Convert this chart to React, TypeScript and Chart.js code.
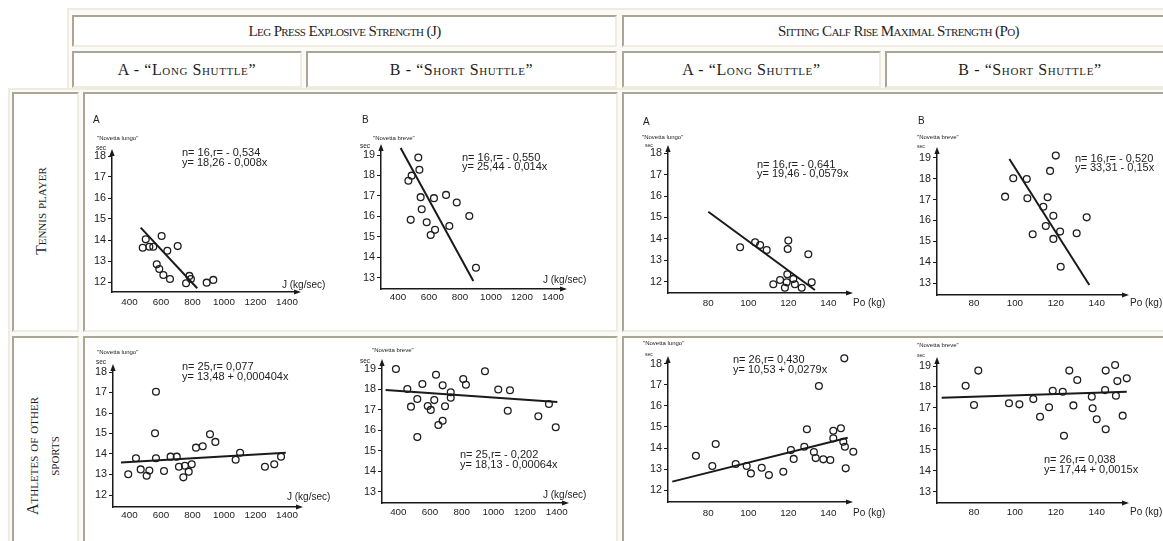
import React, { useEffect, useRef } from "react";
import { Chart, registerables } from "chart.js";

Chart.register(...registerables);

// ---------- tick labels ----------
const jTickLabels = [400, 600, 800, 1000, 1200, 1400];
const poTickLabels = [80, 100, 120, 140];
const secTicksFrom12 = [12, 13, 14, 15, 16, 17, 18];
const secTicksFrom13 = [13, 14, 15, 16, 17, 18, 19];

// ---------- Tennis players, Leg press (J), A - long shuttle ----------
const tennisLegLongX = [604, 503, 484, 526, 551, 640, 706, 573, 589, 615, 657, 780, 759, 790, 890, 932];
const tennisLegLongY = [14.19, 14.03, 13.63, 13.68, 13.68, 13.49, 13.71, 12.84, 12.62, 12.33, 12.14, 12.29, 11.94, 12.14, 11.97, 12.1];
const tennisLegLongFitX = [471, 830];
const tennisLegLongFitY = [14.59, 11.7];

// ---------- Tennis players, Leg press (J), B - short shuttle ----------
const tennisLegShortX = [531, 538, 488, 467, 546, 632, 710, 779, 553, 860, 482, 585, 639, 611, 731, 903];
const tennisLegShortY = [18.88, 18.28, 17.99, 17.74, 16.94, 16.89, 17.05, 16.68, 16.35, 16.02, 15.83, 15.71, 15.34, 15.09, 15.53, 13.49];
const tennisLegShortFitX = [417, 886];
const tennisLegShortFitY = [19.34, 12.84];

// ---------- Tennis players, Calf rise (Po), A - long shuttle ----------
const tennisCalfLongX = [95.9, 103.4, 105.9, 109.2, 120, 119.7, 130, 119.5, 115.9, 112.5, 119.2, 122.5, 123.3, 126.7, 131.7, 118.3];
const tennisCalfLongY = [13.61, 13.84, 13.71, 13.48, 13.92, 13.53, 13.28, 12.35, 12.08, 11.88, 11.97, 12.13, 11.88, 11.72, 11.97, 11.72];
const tennisCalfLongFitX = [80, 133.3];
const tennisCalfLongFitY = [15.27, 11.61];

// ---------- Tennis players, Calf rise (Po), B - short shuttle ----------
const tennisCalfShortX = [120, 117.2, 99.2, 105.8, 95.2, 106.1, 116, 113.9, 118.8, 135.1, 115.1, 122.1, 108.7, 118.8, 130.2, 122.4];
const tennisCalfShortY = [19.1, 18.37, 18.02, 17.98, 17.14, 17.06, 17.11, 16.66, 16.23, 16.15, 15.74, 15.47, 15.34, 15.12, 15.39, 13.79];
const tennisCalfShortFitX = [97.3, 136.4];
const tennisCalfShortFitY = [18.94, 12.92];

// ---------- Other athletes, Leg press (J), A - long shuttle ----------
const otherLegLongX = [568, 562, 441, 568, 661, 700, 392, 471, 526, 509, 619, 714, 752, 795, 776, 742, 822, 865, 911, 945, 1074, 1102, 1260, 1319, 1362];
const otherLegLongY = [17.04, 15.01, 13.79, 13.79, 13.87, 13.87, 13.01, 13.25, 13.19, 12.94, 13.17, 13.38, 13.43, 13.5, 13.14, 12.86, 14.31, 14.38, 14.96, 14.59, 13.72, 14.06, 13.38, 13.5, 13.87];
const otherLegLongFitX = [346, 1392];
const otherLegLongFitY = [13.58, 14.06];

// ---------- Other athletes, Leg press (J), B - short shuttle ----------
const otherLegShortX = [385, 457, 552, 638, 680, 520, 480, 586, 605, 627, 695, 731, 731, 680, 653, 520, 810, 827, 947, 1031, 1105, 1091, 1284, 1351, 1394];
const otherLegShortY = [19.0, 18.02, 18.27, 18.72, 18.2, 17.53, 17.16, 17.19, 17.0, 17.48, 17.18, 17.86, 17.6, 16.47, 16.26, 15.67, 18.51, 18.23, 18.89, 18.0, 17.96, 16.96, 16.69, 17.29, 16.15];
const otherLegShortFitX = [320, 1404];
const otherLegShortFitY = [17.97, 17.39];

// ---------- Other athletes, Calf rise (Po), A - long shuttle ----------
const otherCalfLongX = [73.8, 82, 83.7, 93.7, 99.2, 101.3, 106.7, 110.3, 117.5, 121.3, 122.7, 128, 129.3, 132.8, 133.7, 137.5, 141, 135.3, 148, 142.5, 146.3, 142.5, 147.5, 148.3, 148.7, 152.5];
const otherCalfLongY = [13.63, 13.14, 14.19, 13.24, 13.14, 12.79, 13.06, 12.71, 12.87, 13.9, 13.48, 14.06, 14.89, 13.81, 13.52, 13.46, 13.43, 16.95, 18.27, 14.82, 14.94, 14.46, 14.3, 14.06, 13.03, 13.82];
const otherCalfLongFitX = [62, 149.7];
const otherCalfLongFitY = [12.4, 14.49];

// ---------- Other athletes, Calf rise (Po), B - short shuttle ----------
const otherCalfShortX = [75.9, 82.1, 80, 97.1, 102.2, 109, 112.3, 118.5, 123.4, 116.7, 124, 126.6, 130.5, 128.6, 137.6, 138, 140, 144.1, 144.4, 144.1, 149, 150.1, 154.7, 149.4, 152.7, 144.4];
const otherCalfShortY = [18.06, 18.78, 17.14, 17.22, 17.17, 17.42, 16.58, 17.82, 17.77, 17.03, 15.67, 18.78, 18.33, 17.12, 17.53, 16.98, 16.46, 19.76, 18.78, 17.85, 19.05, 18.28, 18.41, 17.58, 16.63, 15.98];
const otherCalfShortFitX = [64.2, 154.7];
const otherCalfShortFitY = [17.49, 17.77];

// ---------- styling ----------
const SANS = '"Liberation Sans", Arial, sans-serif';
const SERIF = '"Liberation Serif", "Times New Roman", serif';
const INK = "#1a1a1a";
const TXT = "#222222";
const Y_W = 24;
const X_H = 18;
const NOTE = 11;

type Txt = { t: string; x: number; y: number; size: number; align?: CanvasTextAlign };
type Cal = [number, number, number, number];
interface PanelCfg {
  box: [number, number, number, number];
  axis: { l: number; t: number; r: number; b: number };
  xCal: Cal;
  yCal: Cal;
  xTicks: number[];
  yTicks: number[];
  xs: number[];
  ys: number[];
  fx: number[];
  fy: number[];
  xPad: number;
  texts: Txt[];
}

const lin = (c: Cal, p: number) => c[0] + ((p - c[1]) * (c[2] - c[0])) / (c[3] - c[1]);

const panels: PanelCfg[] = [
  {
    box: [85, 96, 270, 232],
    axis: { l: 112, t: 153, r: 297, b: 292 },
    xCal: [400, 129.5, 1400, 287],
    yCal: [12, 282, 18, 156],
    xTicks: jTickLabels, yTicks: secTicksFrom12,
    xs: tennisLegLongX, ys: tennisLegLongY, fx: tennisLegLongFitX, fy: tennisLegLongFitY,
    xPad: 4,
    texts: [
      { t: "A", x: 93, y: 120, size: 10 },
      { t: "\"Novetta lungo\"", x: 97, y: 138, size: 6 },
      { t: "sec", x: 96, y: 148, size: 6.5 },
      { t: "n= 16,r= - 0,534", x: 182, y: 153, size: NOTE },
      { t: "y= 18,26 - 0,008x", x: 182, y: 163, size: NOTE },
      { t: "J (kg/sec)", x: 282, y: 285, size: 10 },
    ],
  },
  {
    box: [355, 96, 260, 232],
    axis: { l: 381, t: 148, r: 563, b: 289 },
    xCal: [400, 398, 1400, 553],
    yCal: [13, 277.7, 19, 155],
    xTicks: jTickLabels, yTicks: secTicksFrom13,
    xs: tennisLegShortX, ys: tennisLegShortY, fx: tennisLegShortFitX, fy: tennisLegShortFitY,
    xPad: 2,
    texts: [
      { t: "B", x: 362, y: 120, size: 10 },
      { t: "\"Novetta breve\"", x: 373, y: 138, size: 6 },
      { t: "sec", x: 360, y: 146, size: 6.5 },
      { t: "n= 16,r= - 0,550", x: 462, y: 158, size: NOTE },
      { t: "y= 25,44 - 0,014x", x: 462, y: 167, size: NOTE },
      { t: "J (kg/sec)", x: 543, y: 280, size: 10 },
    ],
  },
  {
    box: [625, 96, 270, 232],
    axis: { l: 668, t: 149, r: 849, b: 293 },
    xCal: [80, 708.3, 140, 828.3],
    yCal: [12, 281.7, 18, 153.3],
    xTicks: poTickLabels, yTicks: secTicksFrom12,
    xs: tennisCalfLongX, ys: tennisCalfLongY, fx: tennisCalfLongFitX, fy: tennisCalfLongFitY,
    xPad: 4,
    texts: [
      { t: "A", x: 643, y: 122, size: 10 },
      { t: "\"Novetta lungo\"", x: 642, y: 137, size: 6 },
      { t: "sec", x: 645, y: 146, size: 5 },
      { t: "n= 16,r= - 0,641", x: 757, y: 165, size: NOTE },
      { t: "y= 19,46 - 0,0579x", x: 757, y: 174, size: NOTE },
      { t: "Po (kg)", x: 853, y: 303, size: 10 },
    ],
  },
  {
    box: [895, 96, 268, 232],
    axis: { l: 937, t: 151, r: 1125, b: 295 },
    xCal: [80, 974, 140, 1096.7],
    yCal: [13, 283.3, 19, 157.7],
    xTicks: poTickLabels, yTicks: secTicksFrom13,
    xs: tennisCalfShortX, ys: tennisCalfShortY, fx: tennisCalfShortFitX, fy: tennisCalfShortFitY,
    xPad: 2,
    texts: [
      { t: "B", x: 918, y: 121, size: 10 },
      { t: "\"Novetta breve\"", x: 917, y: 137, size: 6 },
      { t: "sec", x: 917, y: 147, size: 5 },
      { t: "n= 16,r= - 0,520", x: 1075, y: 159, size: NOTE },
      { t: "y= 33,31 - 0,15x", x: 1075, y: 168, size: NOTE },
      { t: "Po (kg)", x: 1130, y: 303, size: 10 },
    ],
  },
  {
    box: [85, 338, 270, 203],
    axis: { l: 113, t: 368, r: 299, b: 507 },
    xCal: [400, 129.5, 1400, 287],
    yCal: [12, 495, 18, 372],
    xTicks: jTickLabels, yTicks: secTicksFrom12,
    xs: otherLegLongX, ys: otherLegLongY, fx: otherLegLongFitX, fy: otherLegLongFitY,
    xPad: 2.5,
    texts: [
      { t: "\"Novetta lungo\"", x: 97, y: 352, size: 6 },
      { t: "sec", x: 96, y: 362, size: 6.5 },
      { t: "n= 25,r= 0,077", x: 182, y: 367, size: NOTE },
      { t: "y= 13,48 + 0,000404x", x: 182, y: 377, size: NOTE },
      { t: "J (kg/sec)", x: 287, y: 497, size: 10 },
    ],
  },
  {
    box: [355, 338, 260, 203],
    axis: { l: 382, t: 363, r: 565, b: 503 },
    xCal: [400, 398.3, 1400, 556.7],
    yCal: [13, 491.7, 19, 369],
    xTicks: jTickLabels, yTicks: secTicksFrom13,
    xs: otherLegShortX, ys: otherLegShortY, fx: otherLegShortFitX, fy: otherLegShortFitY,
    xPad: 3.5,
    texts: [
      { t: "\"Novetta breve\"", x: 372, y: 350, size: 6 },
      { t: "sec", x: 360, y: 361, size: 6.5 },
      { t: "n= 25,r= - 0,202", x: 460, y: 455, size: NOTE },
      { t: "y= 18,13 - 0,00064x", x: 460, y: 465, size: NOTE },
      { t: "J (kg/sec)", x: 543, y: 495, size: 10 },
    ],
  },
  {
    box: [625, 338, 270, 203],
    axis: { l: 668, t: 360, r: 849, b: 502 },
    xCal: [80, 708.3, 140, 828.3],
    yCal: [12, 490, 18, 364],
    xTicks: poTickLabels, yTicks: secTicksFrom12,
    xs: otherCalfLongX, ys: otherCalfLongY, fx: otherCalfLongFitX, fy: otherCalfLongFitY,
    xPad: 5,
    texts: [
      { t: "\"Novetta lungo\"", x: 643, y: 343, size: 6 },
      { t: "sec", x: 645, y: 355, size: 5 },
      { t: "n= 26,r= 0,430", x: 733, y: 360, size: NOTE },
      { t: "y= 10,53 + 0,0279x", x: 733, y: 370, size: NOTE },
      { t: "Po (kg)", x: 853, y: 513, size: 10 },
    ],
  },
  {
    box: [895, 338, 268, 203],
    axis: { l: 937, t: 361, r: 1125, b: 503 },
    xCal: [80, 974, 140, 1096.7],
    yCal: [13, 491.7, 19, 366],
    xTicks: poTickLabels, yTicks: secTicksFrom13,
    xs: otherCalfShortX, ys: otherCalfShortY, fx: otherCalfShortFitX, fy: otherCalfShortFitY,
    xPad: 3.5,
    texts: [
      { t: "\"Novetta breve\"", x: 917, y: 345, size: 6 },
      { t: "sec", x: 917, y: 356, size: 5 },
      { t: "n= 26,r= 0,038", x: 1044, y: 460, size: NOTE },
      { t: "y= 17,44 + 0,0015x", x: 1044, y: 470, size: NOTE },
      { t: "Po (kg)", x: 1130, y: 512, size: 10 },
    ],
  },
];

function ScatterPanel({ cfg }: { cfg: PanelCfg }) {
  const ref = useRef<HTMLCanvasElement | null>(null);
  useEffect(() => {
    const [cl, ct, cw, ch] = cfg.box;
    const { l, t, r, b } = cfg.axis;
    const xmin = lin(cfg.xCal, l);
    const xmax = lin(cfg.xCal, r);
    const ymin = lin(cfg.yCal, b);
    const ymax = lin(cfg.yCal, t);
    const decor = {
      id: "decor",
      afterDraw(chart: any) {
        const { ctx, chartArea: a } = chart;
        ctx.save();
        ctx.fillStyle = INK;
        ctx.beginPath();
        ctx.moveTo(a.left, a.top - 4);
        ctx.lineTo(a.left - 2.6, a.top + 3);
        ctx.lineTo(a.left + 2.6, a.top + 3);
        ctx.closePath();
        ctx.fill();
        ctx.beginPath();
        ctx.moveTo(a.right + 4, a.bottom);
        ctx.lineTo(a.right - 3, a.bottom - 2.6);
        ctx.lineTo(a.right - 3, a.bottom + 2.6);
        ctx.closePath();
        ctx.fill();
        ctx.fillStyle = TXT;
        ctx.textBaseline = "middle";
        for (const tx of cfg.texts) {
          ctx.font = `${tx.size}px ${SANS}`;
          ctx.textAlign = tx.align || "left";
          ctx.fillText(tx.t, tx.x - cl, tx.y - ct);
        }
        ctx.restore();
      },
    };
    const chart = new Chart(ref.current as HTMLCanvasElement, {
      type: "scatter",
      data: {
        datasets: [
          {
            data: cfg.fx.map((x, i) => ({ x, y: cfg.fy[i] })),
            showLine: true,
            borderColor: INK,
            borderWidth: 2,
            pointRadius: 0,
            clip: false as any,
          },
          {
            data: cfg.xs.map((x, i) => ({ x, y: cfg.ys[i] })),
            pointRadius: 3.4,
            pointBorderWidth: 1.3,
            pointBorderColor: "#1e1e1e",
            pointBackgroundColor: "rgba(255,255,255,0)",
            clip: false as any,
          },
        ],
      },
      options: {
        animation: false,
        responsive: false,
        maintainAspectRatio: false,
        events: [],
        layout: {
          padding: {
            left: l - cl - Y_W,
            right: cl + cw - r,
            top: t - ct,
            bottom: ct + ch - b - X_H,
          },
        },
        plugins: { legend: { display: false }, tooltip: { enabled: false }, title: { display: false } },
        scales: {
          x: {
            type: "linear",
            min: xmin,
            max: xmax,
            afterBuildTicks: (s: any) => {
              s.ticks = cfg.xTicks.map((v) => ({ value: v }));
            },
            afterFit: (s: any) => {
              s.height = X_H;
            },
            grid: { display: false, drawTicks: false },
            border: { display: true, color: INK, width: 1.5 },
            ticks: {
              autoSkip: false,
              maxRotation: 0,
              minRotation: 0,
              includeBounds: false,
              padding: cfg.xPad,
              color: TXT,
              font: { family: SANS, size: 9.8 },
              callback: (v: any) => String(v),
            },
          },
          y: {
            type: "linear",
            min: ymin,
            max: ymax,
            afterBuildTicks: (s: any) => {
              s.ticks = cfg.yTicks.map((v) => ({ value: v }));
            },
            afterFit: (s: any) => {
              s.width = Y_W;
            },
            grid: { display: true, drawOnChartArea: false, drawTicks: true, tickLength: 4, color: INK, lineWidth: 1 },
            border: { display: true, color: INK, width: 1.5 },
            ticks: {
              autoSkip: false,
              includeBounds: false,
              padding: 2,
              color: TXT,
              font: { family: SANS, size: 10.8 },
              callback: (v: any) => String(v),
            },
          },
        },
      } as any,
      plugins: [decor as any],
    });
    return () => chart.destroy();
  }, [cfg]);
  const [cl, ct, cw, ch] = cfg.box;
  return (
    <canvas
      ref={ref}
      width={cw}
      height={ch}
      style={{ position: "absolute", left: cl, top: ct, width: cw, height: ch }}
    />
  );
}

const DARK = "#a9a696";
const LIGHT = "#efece2";

function Cell({
  x1, y1, x2, y2, size = 15, spacing = 0, children,
}: { x1: number; y1: number; x2: number; y2: number; size?: number; spacing?: number; children?: React.ReactNode }) {
  return (
    <div
      style={{
        position: "absolute",
        left: x1,
        top: y1,
        width: x2 - x1,
        height: y2 - y1,
        boxSizing: "border-box",
        borderTop: `2px solid ${DARK}`,
        borderLeft: `2px solid ${DARK}`,
        borderBottom: `2px solid ${LIGHT}`,
        borderRight: `2px solid ${LIGHT}`,
        background: "#ffffff",
        display: "flex",
        alignItems: "center",
        justifyContent: "center",
        fontFamily: SERIF,
        fontVariant: "small-caps",
        fontSize: size,
        letterSpacing: spacing,
        color: "#1e1e1e",
        whiteSpace: "nowrap",
        overflow: "hidden",
      }}
    >
      {children}
    </div>
  );
}

function RotLabel({
  cx, cy, w, h, lineHeight, size, children,
}: { cx: number; cy: number; w: number; h: number; lineHeight: number; size: number; children: React.ReactNode }) {
  return (
    <div
      style={{
        position: "absolute",
        left: cx - w / 2,
        top: cy - h / 2,
        width: w,
        height: h,
        transform: "rotate(-90deg)",
        transformOrigin: "50% 50%",
        display: "flex",
        alignItems: "center",
        justifyContent: "center",
        textAlign: "center",
        fontFamily: SERIF,
        fontVariant: "small-caps",
        fontSize: size,
        lineHeight: `${lineHeight}px`,
        color: "#1e1e1e",
        whiteSpace: "nowrap",
      }}
    >
      <div>{children}</div>
    </div>
  );
}

export default function App() {
  return (
    <div
      style={{
        position: "fixed",
        left: 0,
        top: 0,
        width: 1163,
        height: 541,
        overflow: "hidden",
        background: "#ffffff",
      }}
    >
      {/* outer frames */}
      <div style={{ position: "absolute", left: 67, top: 8, width: 1120, height: 84, boxSizing: "border-box", borderTop: `2px solid ${LIGHT}`, borderLeft: `2px solid ${LIGHT}`, background: "#fbfaf6" }} />
      <div style={{ position: "absolute", left: 8, top: 88, width: 1180, height: 500, boxSizing: "border-box", borderTop: `2px solid ${LIGHT}`, borderLeft: `2px solid ${LIGHT}`, background: "#fbfaf6" }} />

      {/* header rows */}
      <Cell x1={72} y1={15} x2={617} y2={47} size={15} spacing={-0.6}>Leg Press Explosive Strength (J)</Cell>
      <Cell x1={622} y1={15} x2={1175} y2={47} size={15} spacing={-0.6}>Sitting Calf Rise Maximal Strength (Po)</Cell>
      <Cell x1={72} y1={51} x2={302} y2={88} size={16} spacing={0.6}>A - “Long Shuttle”</Cell>
      <Cell x1={306} y1={51} x2={617} y2={88} size={16} spacing={0.6}>B - “Short Shuttle”</Cell>
      <Cell x1={622} y1={51} x2={881} y2={88} size={16} spacing={0.6}>A - “Long Shuttle”</Cell>
      <Cell x1={885} y1={51} x2={1175} y2={88} size={16} spacing={0.6}>B - “Short Shuttle”</Cell>

      {/* row label cells */}
      <Cell x1={12} y1={92} x2={79} y2={332} />
      <Cell x1={12} y1={336} x2={79} y2={575} />
      {/* chart cells */}
      <Cell x1={83} y1={92} x2={618} y2={332} />
      <Cell x1={622} y1={92} x2={1175} y2={332} />
      <Cell x1={83} y1={336} x2={618} y2={575} />
      <Cell x1={622} y1={336} x2={1175} y2={575} />

      <RotLabel cx={41} cy={211} w={230} h={60} lineHeight={20} size={15.5}>Tennis player</RotLabel>
      <RotLabel cx={43} cy={456} w={236} h={60} lineHeight={21} size={16}>
        Athletes of other
        <br />
        sports
      </RotLabel>

      {panels.map((p, i) => (
        <ScatterPanel key={i} cfg={p} />
      ))}
    </div>
  );
}
